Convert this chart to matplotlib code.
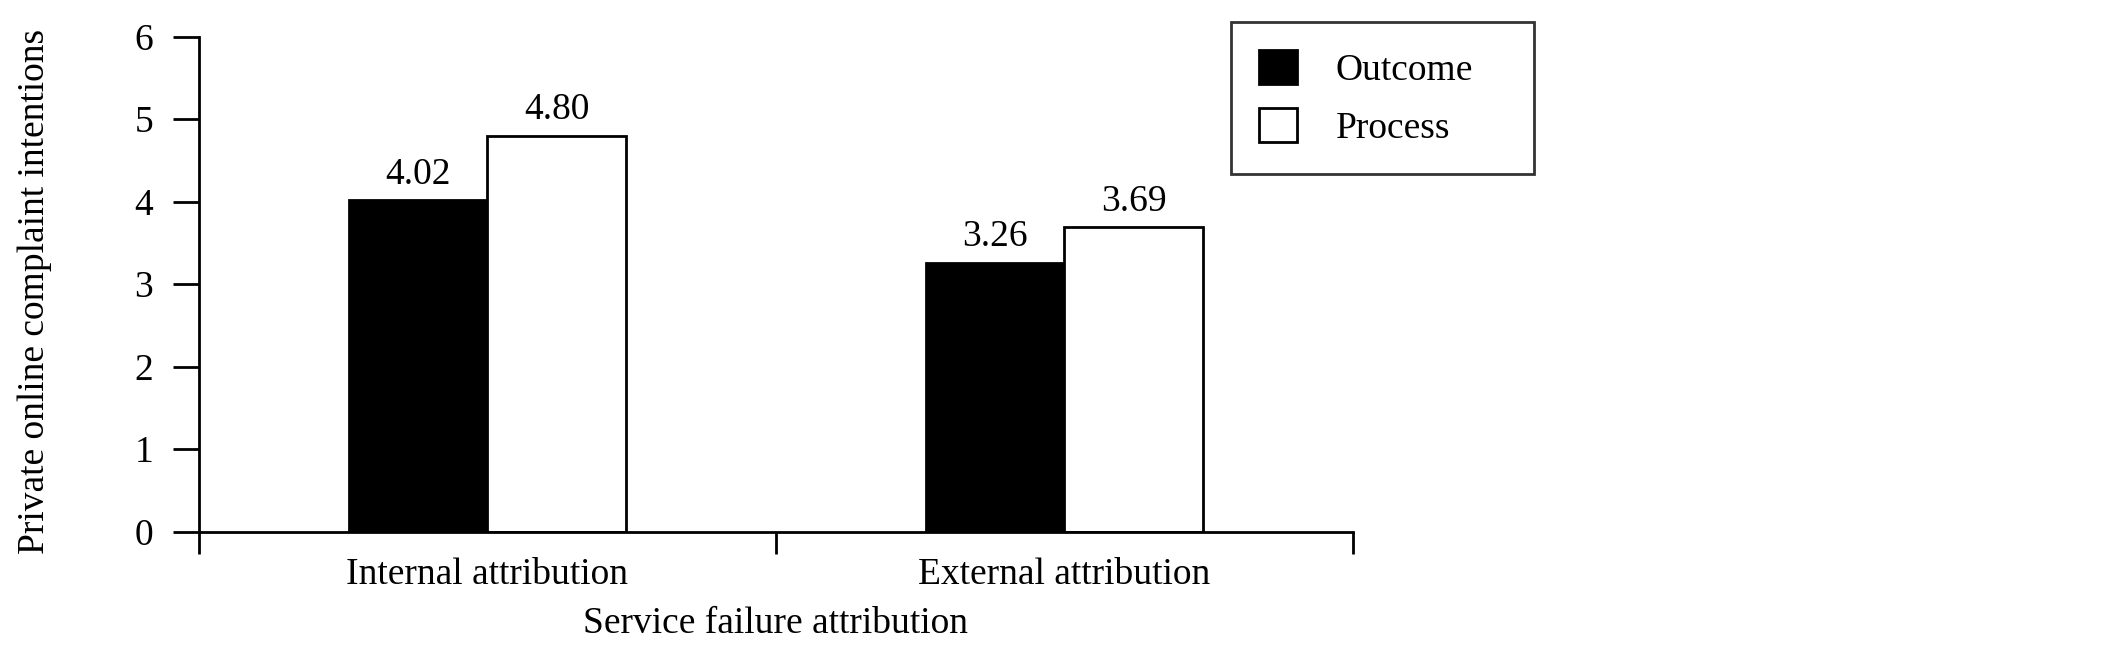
import matplotlib
matplotlib.use("Agg")
import matplotlib.pyplot as plt
from matplotlib.patches import Patch
import numpy as np

categories = ["Internal attribution", "External attribution"]
outcome = [4.02, 3.26]
process = [4.80, 3.69]
series_names = ["Outcome", "Process"]
yticks = [0, 1, 2, 3, 4, 5, 6]

plt.rcParams['font.family'] = ['Liberation Serif', 'DejaVu Serif']
FS = 27

fig = plt.figure(figsize=(21.26, 6.5), dpi=100)
ax = fig.add_axes([0.0936, 0.1823, 0.5428, 0.7614])

x = np.arange(len(categories))
w = 0.24
b1 = ax.bar(x - w / 2, outcome, w, color='black', edgecolor='black', linewidth=2, label=series_names[0])
b2 = ax.bar(x + w / 2, process, w, color='white', edgecolor='black', linewidth=2, label=series_names[1])
ax.bar_label(b1, labels=[f"{v:.2f}" for v in outcome], padding=6, fontsize=FS)
ax.bar_label(b2, labels=[f"{v:.2f}" for v in process], padding=6, fontsize=FS)

ax.set_xlim(-0.5, 1.5)
ax.set_ylim(0, 6)
ax.set_yticks(yticks)
ax.set_yticklabels([str(t) for t in yticks], fontsize=FS)
ax.set_xticks([-0.5, 0.5, 1.5])
ax.set_xticklabels([])
ax.set_xticks(x, minor=True)
ax.set_xticklabels(categories, minor=True, fontsize=FS)
ax.tick_params(axis='x', which='minor', length=0, pad=19)
ax.tick_params(axis='x', which='major', length=16, width=2, direction='out')
ax.tick_params(axis='y', which='major', length=19, width=2, direction='out', pad=14)

for s in ['top', 'right']:
    ax.spines[s].set_visible(False)
for s in ['left', 'bottom']:
    ax.spines[s].set_linewidth(2)

ax.set_ylabel("Private online complaint intentions", fontsize=FS)
ax.yaxis.set_label_coords(-0.127, 0.485)
ax.set_xlabel("Service failure attribution", fontsize=FS, labelpad=10)

handles = [Patch(facecolor='black', edgecolor='black', linewidth=2),
           Patch(facecolor='white', edgecolor='black', linewidth=2)]
leg = fig.legend(handles, series_names, loc='upper left',
                 bbox_to_anchor=(0.579, 0.731, 0.1425, 0.235), mode='expand',
                 fontsize=FS, frameon=True, fancybox=False, edgecolor='black',
                 handlelength=1.0, handleheight=1.0, handletextpad=1.05,
                 labelspacing=0.55, borderpad=0.75, borderaxespad=0)
leg.get_frame().set_linewidth(2)

fig.savefig("out.png", dpi=100, facecolor='white')
